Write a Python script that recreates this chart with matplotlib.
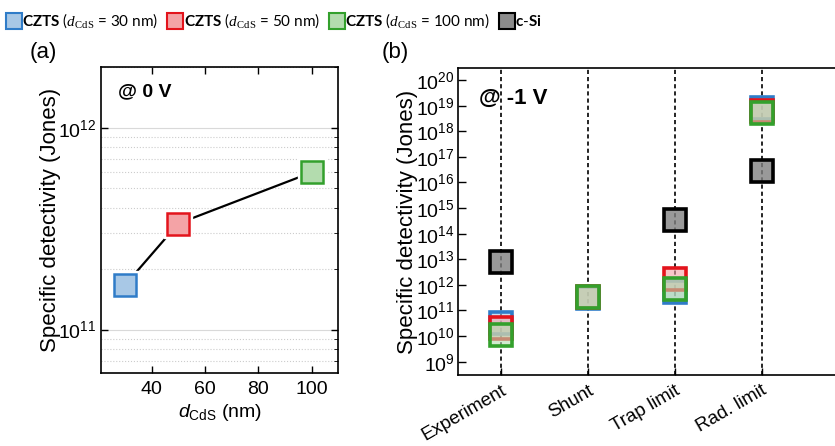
import numpy as np
import matplotlib
matplotlib.use("Agg")
import matplotlib.pyplot as plt
import matplotlib.transforms as mtransforms
from matplotlib.lines import Line2D
from matplotlib.ticker import LogLocator, NullFormatter, FixedLocator
from matplotlib.font_manager import FontProperties

plt.rcParams['font.family'] = ['Liberation Sans', 'DejaVu Sans']
plt.rcParams['mathtext.fontset'] = 'custom'
plt.rcParams['mathtext.rm'] = 'Liberation Sans'
plt.rcParams['mathtext.it'] = 'Liberation Sans:italic'
plt.rcParams['mathtext.bf'] = 'Lato:bold'
plt.rcParams['mathtext.sf'] = 'Liberation Serif:italic'
plt.rcParams['mathtext.tt'] = 'Liberation Serif'

# (a) detectivity at 0 V vs CdS thickness
d_cds = [30, 50, 100]
det_0v = [1.66e11, 3.35e11, 6.0e11]

# (b) detectivity at -1 V
categories = ["Experiment", "Shunt", "Trap limit", "Rad. limit"]
czts_30 = [3.3e10, 3.2e11, 5.1e11, 8.0e18]
czts_50 = [2.0e10, 3.5e11, 1.7e12, 6.0e18]
czts_100 = [1.1e10, 3.5e11, 6.8e11, 5.4e18]
csi = [8.0e12, np.nan, 3.4e14, 2.8e16]

edge_cols = ["#2f7cc8", "#e3141c", "#33a02c"]
fill_cols = ["#a8c8e6", "#f4a3a6", "#b3dcae"]
labels = [r"$\mathbf{CZTS}$ ($\mathsf{d}_{\mathtt{CdS}}$ = 30 nm)",
          r"$\mathbf{CZTS}$ ($\mathsf{d}_{\mathtt{CdS}}$ = 50 nm)",
          r"$\mathbf{CZTS}$ ($\mathsf{d}_{\mathtt{CdS}}$ = 100 nm)",
          r"$\mathbf{c}$-$\mathbf{Si}$"]

fig = plt.figure(figsize=(8.35, 4.46), dpi=100)

# ---- panel (a)
ax1 = fig.add_axes([0.121, 0.164, 0.284, 0.686])
ax1.set_yscale('log')
ax1.plot(d_cds, det_0v, color='black', lw=1.6, zorder=2)
for x, y, ec, fc in zip(d_cds, det_0v, edge_cols, fill_cols):
    ax1.plot(x, y, 's', ms=20, mfc='white', mec='white', zorder=3)
    ax1.plot(x, y, 's', ms=15.5, mfc=fc, mec=ec, mew=1.8, zorder=4)
ax1.set_xlim(21, 110)
ax1.set_ylim(6.1e10, 2.0e12)
ax1.set_xticks([40, 60, 80, 100])
ax1.yaxis.set_major_locator(FixedLocator([1e11, 1e12]))
ax1.yaxis.set_minor_locator(LogLocator(base=10, subs=np.arange(2, 10)))
ax1.yaxis.set_minor_formatter(NullFormatter())
ax1.grid(True, which='major', axis='y', color='#d9d9d9', lw=0.8)
ax1.grid(True, which='minor', axis='y', color='#cccccc', lw=0.8, ls=':')
ax1.tick_params(direction='in', top=True, right=True, labelsize=14, length=5, width=1)
ax1.tick_params(axis='x', pad=6)
ax1.tick_params(which='minor', direction='in', left=False, right=True, length=3)
ax1.set_xlabel(r"$d_{\mathrm{CdS}}$ (nm)", fontsize=14, labelpad=3)
ax1.set_ylabel("Specific detectivity (Jones)", fontsize=16, labelpad=-2)
ax1.text(0.07, 0.945, "@ 0 V", transform=ax1.transAxes, fontsize=14,
         fontweight='bold', va='top')
for s in ax1.spines.values():
    s.set_linewidth(1.2)
fig.text(0.036, 0.87, "(a)", fontsize=16)

# ---- panel (b)
ax2 = fig.add_axes([0.548, 0.159, 0.52, 0.688])
ax2.set_yscale('log')
xpos = np.arange(len(categories))
for xp in xpos:
    ax2.axvline(xp, color='black', lw=1.2, ls=(0, (2.5, 1.8)), zorder=2)
series = [czts_30, czts_50, czts_100]
for vals, ec, fc in zip(series, edge_cols, fill_cols):
    ax2.plot(xpos, vals, 's', ls='none', ms=15.5, mfc=fc + "99", mec=ec,
             mew=2.6, zorder=3)
ax2.plot(xpos, csi, 's', ls='none', ms=15.5, mfc='#808080cc', mec='black',
         mew=2.6, zorder=3)
ax2.set_xlim(-0.5, 4.5)
ax2.set_ylim(3e8, 2.9e20)
ax2.yaxis.set_major_locator(FixedLocator([10.0 ** k for k in range(9, 21)]))
ax2.yaxis.set_minor_locator(FixedLocator([]))
ax2.set_xticks(xpos)
ax2.set_xticklabels(categories, rotation=30, ha='right', rotation_mode='anchor',
                    fontsize=13.5)
shift = mtransforms.ScaledTranslation(0.09, 0, fig.dpi_scale_trans)
for lab in ax2.get_xticklabels():
    lab.set_transform(lab.get_transform() + shift)
ax2.tick_params(axis='x', direction='in', length=5, width=1, pad=5)
ax2.tick_params(axis='y', direction='in', length=6, width=1, labelsize=14, pad=2)
ax2.set_ylabel("Specific detectivity (Jones)", fontsize=16, labelpad=-1)
ax2.text(0.05, 0.935, "@ -1 V", transform=ax2.transAxes, fontsize=16,
         fontweight='bold', va='top')
for s in ax2.spines.values():
    s.set_linewidth(1.2)
fig.text(0.457, 0.87, "(b)", fontsize=16)

# ---- legend
handles = []
for ec, fc in zip(edge_cols, fill_cols):
    handles.append(Line2D([], [], marker='s', ls='none', ms=11, mfc=fc, mec=ec, mew=1.5))
handles.append(Line2D([], [], marker='s', ls='none', ms=11, mfc='#8c8c8c', mec='black', mew=1.5))
fig.legend(handles, labels, loc='upper left', bbox_to_anchor=(-0.006, 1.005),
           ncol=4, frameon=False, handlelength=0.7,
           handletextpad=0.2, columnspacing=0.75,
           prop=FontProperties(family=['Lato', 'DejaVu Sans'], size=11))

fig.savefig("out.png", dpi=100)
